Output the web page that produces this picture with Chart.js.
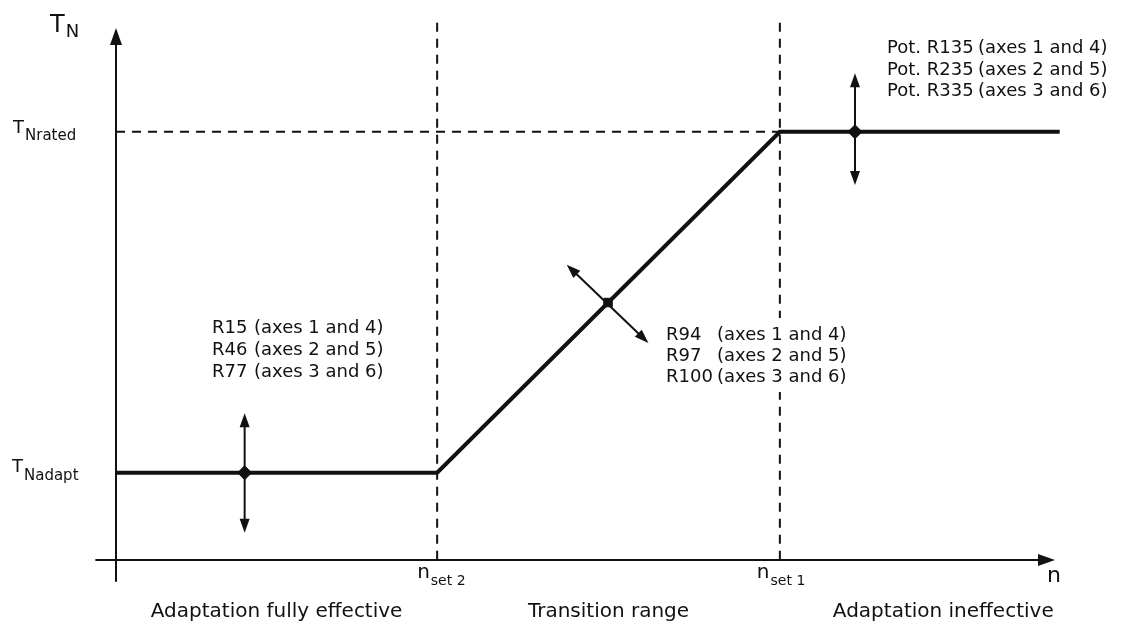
<!DOCTYPE html>
<html>
<head>
<meta charset="utf-8">
<script src="https://cdn.jsdelivr.net/npm/chart.js@4"></script>
<style>
  html, body { margin: 0; padding: 0; background: #fff; }
</style>
</head>
<body>
<canvas id="adaptChart" width="1121" height="626"></canvas>
<script>
// Speed n (x) against torque T_N (y), arbitrary units
const speedPoints = [0, 3.42, 7.07, 10.05];
const torquePoints = [1.64, 1.64, 8.05, 8.05];

const nSet2 = 3.42;
const nSet1 = 7.07;
const tAdapt = 1.64;
const tRated = 8.05;

// the three adjusting points sitting on the curve
const potX = [1.37, 5.24, 7.87];
const potY = [1.64, 4.84, 8.05];
const potStyle = ['rectRot', 'rect', 'rectRot'];
const potSize = [7, 6, 7];

// double arrows through each adjusting point: [x, y] of both tips
const arrowFrom = [[1.37, 2.76], [4.80, 5.55], [7.87, 9.15]];
const arrowTo = [[1.37, 0.51], [5.67, 4.08], [7.87, 7.05]];

// annotation texts
const leftNames = ['R15', 'R46', 'R77'];
const midNames = ['R94', 'R97', 'R100'];
const rightNames = ['Pot. R135', 'Pot. R235', 'Pot. R335'];
const axesText = ['(axes 1 and 4)', '(axes 2 and 5)', '(axes 3 and 6)'];

// ranges under the x axis
const regionLabels = ['Adaptation fully effective', 'Transition range', 'Adaptation ineffective'];
const regionEdges = [0, nSet2, nSet1, 10.55];

const INK = '#111';
const FONT = '"DejaVu Sans", sans-serif';

function arrowHead(ctx, x1, y1, x2, y2, len, half) {
    // filled head at (x2, y2) pointing away from (x1, y1)
    const a = Math.atan2(y2 - y1, x2 - x1);
    ctx.beginPath();
    ctx.moveTo(x2, y2);
    ctx.lineTo(x2 - len * Math.cos(a) + half * Math.sin(a), y2 - len * Math.sin(a) - half * Math.cos(a));
    ctx.lineTo(x2 - len * Math.cos(a) - half * Math.sin(a), y2 - len * Math.sin(a) + half * Math.cos(a));
    ctx.closePath();
    ctx.fill();
}

function subLabel(ctx, main, sub, x, y, mainSize, subSize, drop) {
    ctx.textAlign = 'left';
    ctx.textBaseline = 'alphabetic';
    ctx.font = mainSize + 'px ' + FONT;
    ctx.fillText(main, x, y);
    const w = ctx.measureText(main).width;
    ctx.font = subSize + 'px ' + FONT;
    ctx.fillText(sub, x + w + 1, y + drop);
}

const schematic = {
    id: 'schematic',
    beforeDatasetsDraw(chart) {
        const ctx = chart.ctx;
        const xs = chart.scales.x, ys = chart.scales.y;
        const px = v => xs.getPixelForValue(v);
        const py = v => ys.getPixelForValue(v);
        ctx.save();
        ctx.strokeStyle = INK;
        ctx.fillStyle = INK;

        // dashed guide lines
        ctx.lineWidth = 2;
        ctx.setLineDash([9, 7]);
        ctx.beginPath();
        ctx.moveTo(px(nSet2), py(10.1));
        ctx.lineTo(px(nSet2), py(0));
        ctx.moveTo(px(nSet1), py(10.1));
        ctx.lineTo(px(nSet1), py(0));
        ctx.moveTo(px(0), py(tRated));
        ctx.lineTo(px(nSet1), py(tRated));
        ctx.stroke();
        ctx.setLineDash([]);

        // white gap in the n_set1 guide where the R94..R100 text sits
        ctx.fillStyle = '#fff';
        ctx.fillRect(px(nSet1) - 6, 318, 12, 74);
        ctx.fillStyle = INK;

        // axes with arrow heads
        ctx.lineWidth = 2;
        ctx.beginPath();
        ctx.moveTo(px(0), py(-0.41));
        ctx.lineTo(px(0), py(10) + 8);
        ctx.moveTo(px(-0.22), py(0));
        ctx.lineTo(px(10) - 8, py(0));
        ctx.stroke();
        arrowHead(ctx, px(0), py(0), px(0), py(10), 17, 6);
        arrowHead(ctx, px(0), py(0), px(10), py(0), 17, 6);

        // adjustment arrows
        ctx.lineWidth = 2;
        arrowFrom.forEach((f, i) => {
            const t = arrowTo[i];
            const x1 = px(f[0]), y1 = py(f[1]), x2 = px(t[0]), y2 = py(t[1]);
            const a = Math.atan2(y2 - y1, x2 - x1);
            ctx.beginPath();
            ctx.moveTo(x1 + 8 * Math.cos(a), y1 + 8 * Math.sin(a));
            ctx.lineTo(x2 - 8 * Math.cos(a), y2 - 8 * Math.sin(a));
            ctx.stroke();
            arrowHead(ctx, x2, y2, x1, y1, 14, 5);
            arrowHead(ctx, x1, y1, x2, y2, 14, 5);
        });
        ctx.restore();
    },
    afterDatasetsDraw(chart) {
        const ctx = chart.ctx;
        const xs = chart.scales.x;
        const px = v => xs.getPixelForValue(v);
        ctx.save();
        ctx.fillStyle = INK;

        // axis names and levels
        subLabel(ctx, 'T', 'N', 50, 32, 24, 18, 5);
        subLabel(ctx, 'T', 'Nrated', 13, 133, 18, 15, 7);
        subLabel(ctx, 'T', 'Nadapt', 12, 472, 18, 15, 8);
        subLabel(ctx, 'n', 'set 2', px(nSet2) - 20, 578, 20, 14, 7);
        subLabel(ctx, 'n', 'set 1', px(nSet1) - 23, 578, 20, 14, 7);
        ctx.font = '22px ' + FONT;
        ctx.fillText('n', 1047, 582);

        // pot annotations
        ctx.font = '18px ' + FONT;
        ctx.textAlign = 'left';
        for (let i = 0; i < 3; i++) {
            ctx.fillText(leftNames[i], 212, 333 + i * 22);
            ctx.fillText(axesText[i], 254, 333 + i * 22);
            ctx.fillText(midNames[i], 666, 340 + i * 21);
            ctx.fillText(axesText[i], 717, 340 + i * 21);
            ctx.fillText(rightNames[i], 887, 53 + i * 21.5);
            ctx.fillText(axesText[i], 978, 53 + i * 21.5);
        }

        // range captions
        ctx.font = '20px ' + FONT;
        ctx.textAlign = 'center';
        regionLabels.forEach((lbl, i) => {
            ctx.fillText(lbl, px((regionEdges[i] + regionEdges[i + 1]) / 2), 617);
        });
        ctx.restore();
    }
};

const ctx = document.getElementById('adaptChart').getContext('2d');

const adaptChart = new Chart(ctx, {
    type: 'line',
    data: {
        datasets: [{
            // adjusting points, drawn on top of the curve
            data: potX.map((x, i) => ({ x: x, y: potY[i] })),
            showLine: false,
            pointStyle: potStyle,
            pointRadius: potSize,
            backgroundColor: INK,
            borderColor: INK,
            borderWidth: 1,
            clip: false
        }, {
            data: speedPoints.map((x, i) => ({ x: x, y: torquePoints[i] })),
            borderColor: INK,
            borderWidth: 4,
            pointRadius: 0,
            tension: 0,
            fill: false,
            clip: false
        }]
    },
    options: {
        responsive: false,
        animation: false,
        events: [],
        layout: { padding: { left: 116, right: 66, top: 28, bottom: 66 } },
        scales: {
            x: { type: 'linear', min: 0, max: 10, display: false },
            y: { type: 'linear', min: 0, max: 10, display: false }
        },
        plugins: {
            legend: { display: false },
            tooltip: { enabled: false }
        }
    },
    plugins: [schematic]
});
</script>
</body>
</html>
